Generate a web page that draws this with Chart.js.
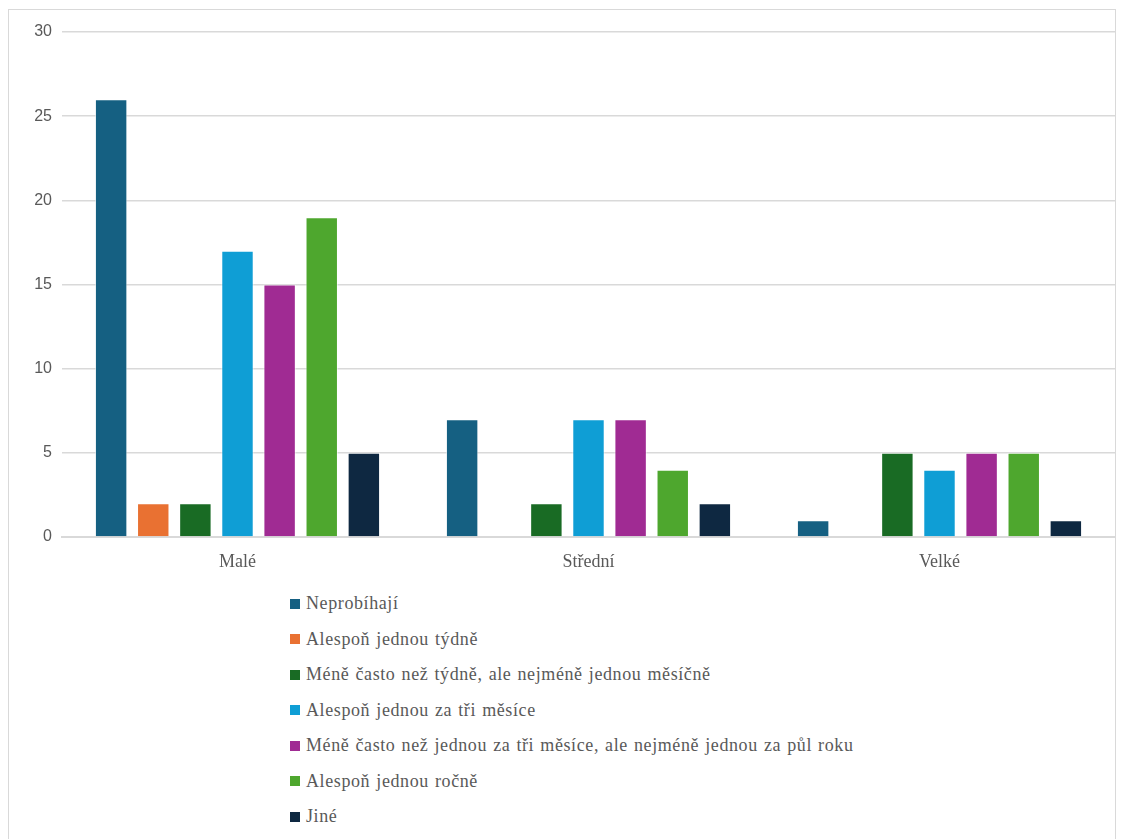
<!DOCTYPE html>
<html>
<head>
<meta charset="utf-8">
<script src="https://cdn.jsdelivr.net/npm/chart.js@4/dist/chart.umd.min.js"></script>
<style>
  body { margin: 0; background: #fff; }
  #box {
    position: absolute; left: 8px; top: 9px; width: 1108px; height: 840px;
    border: 1px solid #d9d9d9; box-sizing: border-box;
  }
  #wrap { position: absolute; left: 0; top: 0; width: 1106px; height: 575px; }
  #legend {
    position: absolute; left: 281px; top: 576px; margin: 0; padding: 0; list-style: none;
    font-family: "Liberation Serif", "DejaVu Serif", serif; font-size: 18px; color: #595959;
    letter-spacing: 0.6px; word-spacing: 1px;
  }
  #legend li { height: 35.5px; display: flex; align-items: center; }
  #legend span { display: inline-block; width: 10px; height: 10px; margin-right: 6px; }
</style>
</head>
<body>
<div id="box">
  <div id="wrap"><canvas id="barChart"></canvas></div>
  <ul id="legend"></ul>
</div>
<script>
// Data
const categories = ["Malé", "Střední", "Velké"]
const seriesNames = [
  "Neprobíhají",
  "Alespoň jednou týdně",
  "Méně často než týdně, ale nejméně jednou měsíčně",
  "Alespoň jednou za tři měsíce",
  "Méně často než jednou za tři měsíce, ale nejméně jednou za půl roku",
  "Alespoň jednou ročně",
  "Jiné"
]
const neprobihaji = [26, 7, 1]
const tydne = [2, 0, 0]
const mesicne = [2, 2, 5]
const triMesice = [17, 7, 4]
const pulRoku = [15, 7, 5]
const rocne = [19, 4, 5]
const jine = [5, 2, 1]
const yTicks = [0, 5, 10, 15, 20, 25, 30]

const colors = ["#156082", "#E97132", "#196B24", "#0F9ED5", "#A02B93", "#4EA72E", "#0E2841"]
const values = [neprobihaji, tydne, mesicne, triMesice, pulRoku, rocne, jine]

const ctx = document.querySelector('#barChart').getContext("2d")

const bar = new Chart(ctx, {
  type: "bar",
  data: {
    labels: categories,
    datasets: seriesNames.map((name, i) => ({
      label: name,
      data: values[i],
      backgroundColor: colors[i],
      borderColor: "rgba(255,255,255,0.6)",
      borderWidth: 1,
      categoryPercentage: 0.84,
      barPercentage: 0.77
    }))
  },
  options: {
    responsive: true,
    maintainAspectRatio: false,
    animation: false,
    layout: { padding: { top: 22, right: 0, left: 0, bottom: 0 } },
    plugins: {
      legend: { display: false },
      tooltip: { enabled: false }
    },
    scales: {
      x: {
        grid: { display: false, drawTicks: false },
        border: { color: "#d9d9d9", width: 2 },
        ticks: {
          color: "#595959",
          padding: 14,
          font: { family: "'Liberation Serif', 'DejaVu Serif', serif", size: 18 }
        },
        afterFit: (scale) => { scale.height = 48 }
      },
      y: {
        min: 0,
        max: 30,
        afterBuildTicks: (scale) => { scale.ticks = yTicks.map(v => ({ value: v })) },
        grid: { color: "#d9d9d9", lineWidth: 1.5, drawTicks: false },
        border: { display: false },
        ticks: {
          color: "#595959",
          padding: 10,
          font: { family: "'Liberation Sans', Arial, sans-serif", size: 16 }
        },
        afterFit: (scale) => { scale.width = 53 }
      }
    }
  }
})

// Legend (one entry per row)
const legend = document.querySelector('#legend')
bar.data.datasets.forEach(ds => {
  const li = document.createElement('li')
  const sw = document.createElement('span')
  sw.style.background = ds.backgroundColor
  li.appendChild(sw)
  li.appendChild(document.createTextNode(ds.label))
  legend.appendChild(li)
})
</script>
</body>
</html>
